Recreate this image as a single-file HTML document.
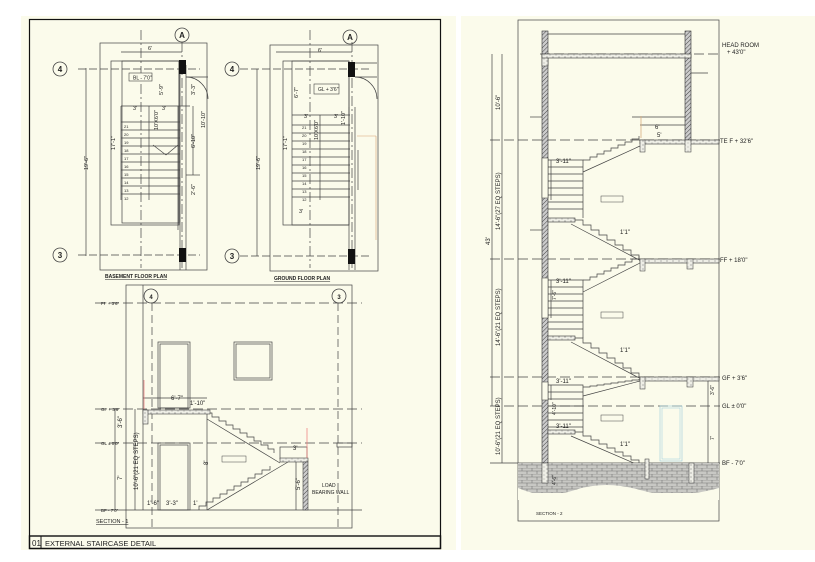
<!DOCTYPE html>
<html><head><meta charset="utf-8"><style>
html,body{margin:0;padding:0;background:#fff;}
svg{display:block;}
text{font-family:"Liberation Sans",sans-serif;fill:#222;}
</style></head><body>
<svg width="815" height="562" viewBox="0 0 815 562" xmlns="http://www.w3.org/2000/svg">
<defs>
<pattern id="hatch" width="3" height="3" patternUnits="userSpaceOnUse" patternTransform="rotate(45)">
<rect width="3" height="3" fill="#ccc"/><line x1="0" y1="0" x2="0" y2="3" stroke="#444" stroke-width="1"/></pattern>
<pattern id="brick" width="10" height="6" patternUnits="userSpaceOnUse">
<rect width="10" height="6" fill="#c8c8c4"/><path d="M0 0H10M0 3H10M2 0V3M7 3V6" stroke="#777" stroke-width="0.6" fill="none"/></pattern>
<pattern id="conc" width="6" height="4" patternUnits="userSpaceOnUse">
<rect width="6" height="4" fill="#eeeee6"/><circle cx="1" cy="1" r="0.5" fill="#555"/><circle cx="4" cy="3" r="0.4" fill="#555"/></pattern>
</defs>
<rect x="21" y="16" width="794" height="534" fill="#fbfbeb"/>
<rect x="456" y="16" width="5" height="534" fill="#fff"/>
<!-- left frame -->
<rect x="29.5" y="19.5" width="411" height="529" fill="none" stroke="#111" stroke-width="1.2"/>
<rect x="29.5" y="536" width="411" height="12.5" fill="none" stroke="#111" stroke-width="1.4"/>
<line x1="41" y1="536" x2="41" y2="548" stroke="#111"/>
<text x="32" y="546" font-size="8">01</text>
<text x="45" y="546" font-size="7.5">EXTERNAL STAIRCASE DETAIL</text>

<g fill="none" stroke="#444" stroke-width="0.7">
<!-- BASEMENT PLAN -->
<rect x="100" y="43" width="107" height="227"/>
<line x1="78" y1="69" x2="200" y2="69" stroke-dasharray="8 3"/>
<line x1="78" y1="255" x2="200" y2="255" stroke-dasharray="8 3"/>
<line x1="141" y1="30" x2="141" y2="268" stroke-dasharray="10 3 2 3"/>
<line x1="182" y1="42" x2="182" y2="268" stroke-dasharray="10 3 2 3"/>
<line x1="86" y1="68" x2="86" y2="256"/>
<rect x="111" y="61" width="68" height="164"/>
<rect x="122" y="61" width="57" height="162"/>
<line x1="121" y1="106" x2="190" y2="106"/><line x1="121" y1="106" x2="121" y2="200"/>
<path d="M121 122H180M121 130H180M121 138H180M121 146H180M121 154H180M121 162H180M121 170H180M121 178H180M121 186H180M121 194H180"/>
<line x1="149" y1="106" x2="149" y2="200"/>
<line x1="178" y1="106" x2="178" y2="230"/>
<line x1="180" y1="65" x2="180" y2="270"/><line x1="186" y1="65" x2="186" y2="270"/>
<path d="M186 77 A22 22 0 0 1 208 99"/>
<line x1="186" y1="77" x2="208" y2="77"/>
<line x1="193" y1="106" x2="193" y2="175"/><line x1="186" y1="175" x2="200" y2="175"/>
<line x1="121" y1="52" x2="182" y2="52"/>
<line x1="153" y1="145" x2="166" y2="155"/><line x1="166" y1="155" x2="178" y2="145"/>
</g>
<rect x="179" y="60" width="7" height="14" fill="#111"/>
<rect x="179" y="248" width="7" height="14" fill="#111"/>
<rect x="129" y="73" width="23" height="8" fill="#fbfbeb" stroke="#444" stroke-width="0.6"/>
<text x="133" y="79.5" font-size="5">BL - 7'0"</text>
<g font-size="5.5">
<text x="148" y="50">6'</text>
<text x="133" y="110">3'</text><text x="162" y="110">3'</text>
<text transform="translate(115 150) rotate(-90)">17'-1"</text>
<text transform="translate(88 170) rotate(-90)">19'-6"</text>
<text transform="translate(163 95) rotate(-90)">5'-9"</text>
<text transform="translate(195 95) rotate(-90)">3'-3"</text>
<text transform="translate(205 128) rotate(-90)">10'-10"</text>
<text transform="translate(195 148) rotate(-90)">6'-10"</text>
<text transform="translate(195 195) rotate(-90)">2'-6"</text>
<text transform="translate(158 130) rotate(-90)">10'X6'0"</text>
</g>
<g font-size="4" fill="#444"><text x="124" y="128">21</text><text x="124" y="136">20</text><text x="124" y="144">19</text><text x="124" y="152">18</text><text x="124" y="160">17</text><text x="124" y="168">16</text><text x="124" y="176">15</text><text x="124" y="184">14</text><text x="124" y="192">13</text><text x="124" y="200">12</text></g>
<g fill="#fbfbeb" stroke="#444" stroke-width="0.8">
<circle cx="182" cy="35" r="7"/><circle cx="60" cy="69" r="7"/><circle cx="60" cy="255" r="7"/>
<circle cx="350" cy="37" r="7"/><circle cx="232" cy="69" r="7"/><circle cx="232" cy="256" r="7"/>
<circle cx="151" cy="296" r="7"/><circle cx="339" cy="296" r="7"/>
</g>
<g font-size="8" font-weight="bold" text-anchor="middle">
<text x="182" y="38">A</text><text x="60" y="72">4</text><text x="60" y="258">3</text>
<text x="350" y="40">A</text><text x="232" y="72">4</text><text x="232" y="259">3</text>
<text x="151" y="299" font-size="6">4</text><text x="339" y="299" font-size="6">3</text>
</g>
<text x="105" y="278" font-size="5" font-weight="bold" text-decoration="underline">BASEMENT FLOOR PLAN</text>
<text x="274" y="280" font-size="5" font-weight="bold" text-decoration="underline">GROUND FLOOR PLAN</text>

<!-- GROUND PLAN -->
<g fill="none" stroke="#444" stroke-width="0.7">
<rect x="270" y="45" width="108" height="226"/>
<line x1="240" y1="69" x2="370" y2="69" stroke-dasharray="8 3"/>
<line x1="240" y1="256" x2="370" y2="256" stroke-dasharray="8 3"/>
<line x1="310" y1="30" x2="310" y2="268" stroke-dasharray="10 3 2 3"/>
<line x1="352" y1="42" x2="352" y2="268" stroke-dasharray="10 3 2 3"/>
<line x1="257" y1="69" x2="257" y2="256"/>
<rect x="283" y="61" width="66" height="164"/>
<rect x="292" y="61" width="57" height="164"/>
<line x1="292" y1="115" x2="350" y2="115"/><line x1="292" y1="125" x2="350" y2="125"/>
<path d="M292 133H350M292 141H350M292 149H350M292 157H350M292 165H350M292 173H350M292 181H350M292 189H350M292 197H350"/>
<line x1="320" y1="115" x2="320" y2="200"/>
<line x1="349" y1="107" x2="349" y2="270"/><line x1="355" y1="107" x2="355" y2="270"/>
<path d="M355 77 A22 22 0 0 1 377 99"/>
<line x1="355" y1="63" x2="377" y2="63"/><line x1="355" y1="77" x2="377" y2="77"/>
<line x1="358" y1="150" x2="358" y2="190"/>
<line x1="276" y1="52" x2="352" y2="52"/>
</g>
<line x1="357" y1="136" x2="376" y2="136" stroke="#d9a070" stroke-width="0.6"/>
<line x1="376" y1="136" x2="376" y2="240" stroke="#d9a070" stroke-width="0.6"/>
<rect x="348" y="62" width="7" height="15" fill="#111"/>
<rect x="348" y="249" width="7" height="15" fill="#111"/>
<rect x="314" y="84" width="25" height="10" fill="#fbfbeb" stroke="#444" stroke-width="0.6"/>
<text x="318" y="91" font-size="5">GL + 3'6"</text>
<g font-size="5.5">
<text x="318" y="52">6'</text>
<text x="304" y="118">3'</text><text x="334" y="118">3'</text>
<text transform="translate(287 150) rotate(-90)">17'-1"</text>
<text transform="translate(260 170) rotate(-90)">19'-6"</text>
<text transform="translate(298 98) rotate(-90)">6'-7"</text>
<text transform="translate(345 125) rotate(-90)">1'-10"</text>
<text transform="translate(318 140) rotate(-90)">10'X6'0"</text>
<text x="299" y="213">3'</text>
</g>
<g font-size="4" fill="#444"><text x="302" y="129">21</text><text x="302" y="137">20</text><text x="302" y="145">19</text><text x="302" y="153">18</text><text x="302" y="161">17</text><text x="302" y="169">16</text><text x="302" y="177">15</text><text x="302" y="185">14</text><text x="302" y="193">13</text><text x="302" y="201">12</text></g>

<!-- SECTION 1 -->
<g fill="none" stroke="#444" stroke-width="0.7">
<rect x="126" y="285" width="226" height="243"/>
<line x1="143" y1="285" x2="143" y2="510"/>
<line x1="152" y1="303" x2="152" y2="528" stroke-dasharray="8 4"/>
<line x1="338" y1="303" x2="338" y2="528" stroke-dasharray="8 4"/>
<line x1="95" y1="303" x2="362" y2="303" stroke-dasharray="10 4"/>
<line x1="95" y1="409" x2="362" y2="409" stroke-dasharray="10 4"/>
<line x1="95" y1="443" x2="362" y2="443" stroke-dasharray="10 4"/>
<line x1="95" y1="510" x2="362" y2="510"/>
<rect x="158" y="342" width="32" height="66"/><rect x="160" y="344" width="28" height="64"/>
<rect x="234" y="342" width="38" height="38"/><rect x="236" y="344" width="34" height="34"/>
<rect x="158" y="443" width="32" height="67"/><rect x="160" y="445" width="28" height="65"/>
<line x1="115" y1="409" x2="115" y2="510"/>
<line x1="135" y1="409" x2="135" y2="510"/>
<line x1="207" y1="411" x2="207" y2="510"/>
<path d="M207 413 h5 v4 h7 v4 h7 v4 h7 v4 h7 v4 h7 v4 h7 v4 h7 v4 h7 v4 h6 v4"/>
<line x1="207" y1="419" x2="280" y2="463"/>
<path d="M199 510 v-4 h7 v-4 h7 v-4 h7 v-4 h7 v-4 h7 v-4 h7 v-4 h7 v-4 h7 v-4 h7 v-4 h8 v-4"/>
<line x1="207" y1="510" x2="288" y2="462"/>
<rect x="280" y="447" width="27" height="12"/>
<line x1="296" y1="459" x2="296" y2="510"/>
<line x1="143" y1="398" x2="207" y2="398"/>
<rect x="337" y="443" width="15" height="4"/>
</g>
<rect x="143" y="410" width="67" height="4" fill="url(#conc)" stroke="#444" stroke-width="0.6"/>
<rect x="143" y="410" width="5" height="14" fill="url(#conc)" stroke="#444" stroke-width="0.6"/>
<rect x="280" y="458" width="28" height="4" fill="url(#conc)" stroke="#444" stroke-width="0.6"/>
<rect x="303" y="462" width="5" height="48" fill="url(#hatch)" stroke="#444" stroke-width="0.6"/>
<line x1="144" y1="380" x2="144" y2="409" stroke="#e77" stroke-width="0.7"/>
<line x1="307" y1="428" x2="307" y2="458" stroke="#e77" stroke-width="0.7"/>
<rect x="222" y="456" width="24" height="6" fill="#fbfbeb" stroke="#444" stroke-width="0.5"/>
<g font-size="4.5">
<text x="101" y="305">FF + 3'6"</text><text x="101" y="411">GF + 3'6"</text><text x="101" y="445">GL ± 0'0"</text><text x="101" y="512">BF - 7'0"</text>
<text x="96" y="523" font-size="5.5" text-decoration="underline">SECTION - 1</text>
<text x="322" y="487" font-size="5">LOAD</text><text x="312" y="494" font-size="5">BEARING WALL</text>
</g>
<g font-size="6">
<text x="171" y="400">6'-7"</text><text x="190" y="405">1'-10"</text>
<text x="147" y="505">1'-6"</text><text x="166" y="505">3'-3"</text><text x="193" y="505">1'</text>
<text x="293" y="450">3'</text>
<text transform="translate(122 428) rotate(-90)">3'-6"</text>
<text transform="translate(122 480) rotate(-90)">7'</text>
<text transform="translate(138 490) rotate(-90)">10'-6"(21 EQ STEPS)</text>
<text transform="translate(208 465) rotate(-90)">8'</text>
<text transform="translate(300 490) rotate(-90)">5'-6"</text>
</g>

<!-- SECTION 2 -->
<g fill="none" stroke="#444" stroke-width="0.7">
<rect x="518" y="20" width="201" height="501"/>
<line x1="540" y1="54" x2="720" y2="54" stroke-dasharray="10 4"/>
<line x1="490" y1="140" x2="720" y2="140" stroke-dasharray="10 4"/>
<line x1="490" y1="259" x2="720" y2="259" stroke-dasharray="10 4"/>
<line x1="490" y1="377" x2="720" y2="377" stroke-dasharray="10 4"/>
<line x1="490" y1="406" x2="720" y2="406" stroke-dasharray="10 4"/>
<line x1="490" y1="463" x2="720" y2="463"/>
<line x1="492" y1="54" x2="492" y2="406"/>
<line x1="502" y1="54" x2="502" y2="463"/>
<line x1="708" y1="377" x2="708" y2="463"/>
<line x1="548" y1="34" x2="690" y2="34"/>
<path d="M548 160 h35 v58 M548 167h35M548 174h35M548 181h35M548 188h35M548 195h35M548 202h35M548 209h35"/>
<path d="M548 280 h35 v58 M548 287h35M548 294h35M548 301h35M548 308h35M548 315h35M548 322h35M548 329h35"/>
<path d="M548 385 h35 v47 M548 392h35M548 399h35M548 406h35M548 413h35M548 420h35M548 427h35"/>
<path d="M583 160 h7 v-3 h7 v-3 h7 v-3 h7 v-3 h7 v-3 h7 v-3 h7 v-3 h7 v-3"/>
<path d="M583 280 h7 v-3 h7 v-3 h7 v-3 h7 v-3 h7 v-3 h7 v-3 h7 v-3 h7 v-3"/>
<path d="M583 387 h7 v-1 h7 v-1 h7 v-1 h7 v-1 h7 v-1 h7 v-1 h7 v-1 h7 v-1"/>
<line x1="583" y1="172" x2="640" y2="146"/><line x1="583" y1="292" x2="640" y2="263"/><line x1="583" y1="396" x2="640" y2="381"/>
<path d="M575 220 h8 v5 h8 v5 h8 v5 h8 v5 h8 v5 h8 v5 h8 v5 h8 v4"/>
<path d="M575 338 h8 v5 h8 v5 h8 v5 h8 v5 h8 v5 h8 v5 h8 v5 h8 v4"/>
<path d="M575 432 h8 v4 h8 v4 h8 v4 h8 v4 h8 v4 h8 v4 h8 v4 h8 v3"/>
<line x1="571" y1="224" x2="643" y2="262"/><line x1="571" y1="342" x2="643" y2="380"/><line x1="571" y1="436" x2="643" y2="467"/>
<line x1="640" y1="125" x2="685" y2="125"/><line x1="632" y1="117" x2="685" y2="117"/>
<line x1="530" y1="117" x2="542" y2="117"/><line x1="530" y1="230" x2="542" y2="230"/><line x1="691" y1="73" x2="708" y2="73"/>
<line x1="551" y1="160" x2="551" y2="200"/><line x1="551" y1="280" x2="551" y2="318"/><line x1="551" y1="385" x2="551" y2="400"/>
</g>
<rect x="660" y="406" width="22" height="55" fill="none" stroke="#9cd" stroke-width="0.6"/>
<rect x="662" y="408" width="18" height="51" fill="none" stroke="#9cd" stroke-width="0.5"/>
<line x1="641" y1="116" x2="641" y2="138" stroke="#d9b080" stroke-width="0.8"/>
<rect x="518" y="463" width="201" height="30" fill="url(#brick)"/>
<path d="M518 488 Q545 500 575 490 T640 490 T719 488 V500 H518Z" fill="#fbfbeb"/>
<!-- walls -->
<rect x="542" y="31" width="6" height="432" fill="url(#hatch)" stroke="#333" stroke-width="0.6"/>
<rect x="542" y="54" width="6" height="12" fill="url(#conc)" stroke="#333" stroke-width="0.5"/>
<rect x="685" y="31" width="6" height="112" fill="url(#hatch)" stroke="#333" stroke-width="0.6"/>
<rect x="542" y="158" width="6" height="40" fill="#fbfbeb" stroke="#333" stroke-width="0.5"/>
<rect x="542" y="278" width="6" height="40" fill="#fbfbeb" stroke="#333" stroke-width="0.5"/>
<rect x="542" y="382" width="6" height="18" fill="#fbfbeb" stroke="#333" stroke-width="0.5"/>
<rect x="542" y="54" width="149" height="4" fill="url(#conc)" stroke="#333" stroke-width="0.6"/>
<rect x="640" y="140" width="79" height="4" fill="url(#conc)" stroke="#333" stroke-width="0.6"/>
<rect x="640" y="140" width="5" height="12" fill="url(#conc)" stroke="#333" stroke-width="0.5"/>
<rect x="685" y="140" width="6" height="12" fill="url(#conc)" stroke="#333" stroke-width="0.5"/>
<rect x="640" y="259" width="79" height="4" fill="url(#conc)" stroke="#333" stroke-width="0.6"/>
<rect x="640" y="259" width="5" height="12" fill="url(#conc)" stroke="#333" stroke-width="0.5"/>
<rect x="687" y="259" width="6" height="10" fill="url(#conc)" stroke="#333" stroke-width="0.5"/>
<rect x="640" y="377" width="79" height="4" fill="url(#conc)" stroke="#333" stroke-width="0.6"/>
<rect x="640" y="377" width="5" height="12" fill="url(#conc)" stroke="#333" stroke-width="0.5"/>
<rect x="687" y="377" width="6" height="10" fill="url(#conc)" stroke="#333" stroke-width="0.5"/>
<rect x="548" y="218" width="27" height="4" fill="url(#conc)" stroke="#333" stroke-width="0.6"/>
<rect x="548" y="336" width="27" height="4" fill="url(#conc)" stroke="#333" stroke-width="0.6"/>
<rect x="548" y="430" width="27" height="4" fill="url(#conc)" stroke="#333" stroke-width="0.6"/>
<rect x="645" y="459" width="4" height="20" fill="url(#conc)" stroke="#333" stroke-width="0.5"/>
<rect x="689" y="463" width="5" height="20" fill="url(#conc)" stroke="#333" stroke-width="0.5"/>
<rect x="542" y="463" width="6" height="20" fill="url(#conc)" stroke="#333" stroke-width="0.5"/>
<g fill="#fbfbeb" stroke="#444" stroke-width="0.5">
<rect x="601" y="196" width="22" height="6"/><rect x="601" y="312" width="22" height="6"/><rect x="601" y="415" width="22" height="6"/></g>
<g font-size="6">
<text x="722" y="47">HEAD ROOM</text><text x="727" y="54">+ 43'0"</text>
<text x="720" y="143">TE F + 32'6"</text>
<text x="720" y="262">FF + 18'0"</text>
<text x="722" y="380">GF + 3'6"</text>
<text x="722" y="408">GL ± 0'0"</text>
<text x="722" y="465">BF - 7'0"</text>
<text x="655" y="129">6'</text><text x="657" y="137">5'</text>
<text x="556" y="163">3'-11"</text><text x="556" y="283">3'-11"</text><text x="556" y="383">3'-11"</text><text x="556" y="428">3'-11"</text>
<text x="620" y="234">1'1"</text><text x="620" y="352">1'1"</text><text x="620" y="446">1'1"</text>
<text x="536" y="515" font-size="4.5">SECTION - 2</text>
<text transform="translate(500 110) rotate(-90)">10'-6"</text>
<text transform="translate(500 230) rotate(-90)">14'-6"(27 EQ STEPS)</text>
<text transform="translate(500 346) rotate(-90)">14'-6"(21 EQ STEPS)</text>
<text transform="translate(500 455) rotate(-90)">10'-6"(21 EQ STEPS)</text>
<text transform="translate(490 245) rotate(-90)">43'</text>
<text transform="translate(556 300) rotate(-90)" font-size="5">7'-6"</text>
<text transform="translate(556 415) rotate(-90)" font-size="5">4'-10"</text>
<text transform="translate(556 485) rotate(-90)" font-size="5">4'-6"</text>
<text transform="translate(714 395) rotate(-90)" font-size="5">3'-6"</text>
<text transform="translate(714 440) rotate(-90)" font-size="5">7'</text>
</g>
</svg>
</body></html>
